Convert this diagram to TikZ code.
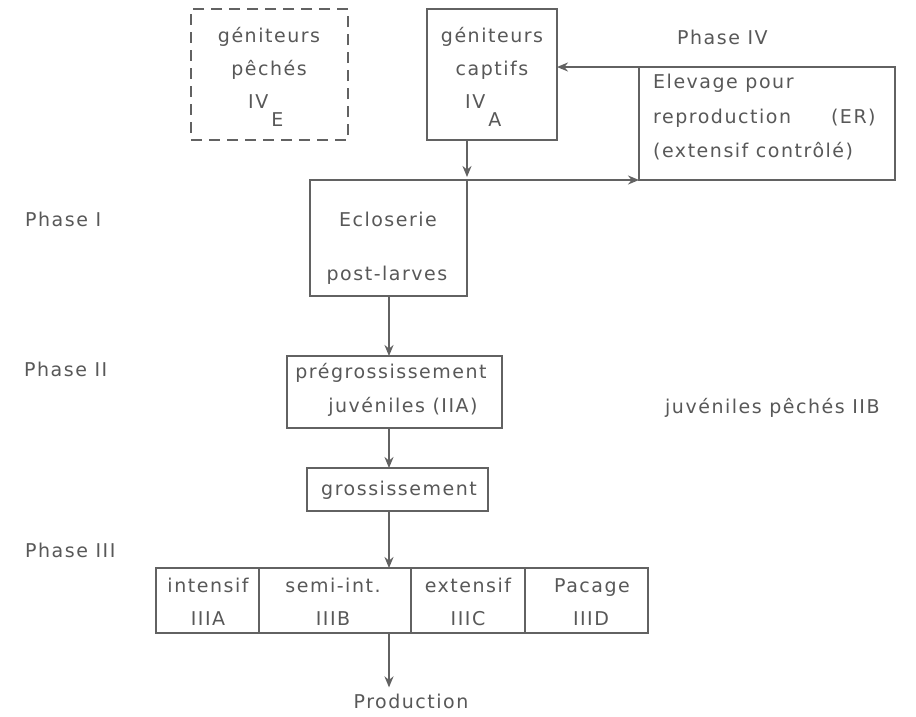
\documentclass[tikz,border=0pt]{standalone}
\usepackage{fontspec}
\setmainfont{DejaVu Sans}[LetterSpace=8]
\usetikzlibrary{arrows.meta}
\definecolor{inkline}{RGB}{98,98,98}
\definecolor{inktext}{RGB}{88,88,88}
\begin{document}
\begin{tikzpicture}[x=1pt,y=-1pt,
  frame/.style={draw=inkline, line width=2pt, inner sep=0pt, outer sep=0pt, rectangle},
  lbl/.style={text=inktext, font=\fontsize{19}{23}\selectfont, inner sep=0pt, anchor=base},
  flow/.style={draw=inkline, line width=2pt, -{Stealth[length=11pt,width=9pt]}}]

% page
\fill[white] (0,0) rectangle (916,716);
\useasboundingbox (0,0) rectangle (916,716);

% boxes
\node[frame, dash pattern=on 11pt off 7pt, minimum width=157pt, minimum height=131pt] (ive) at (269.5,74.5) {};
\node[frame, minimum width=130pt, minimum height=131pt] (iva) at (492,74.5) {};
\node[frame, minimum width=256pt, minimum height=113pt] (er) at (767,123.5) {};
\node[frame, minimum width=157pt, minimum height=116pt] (ecl) at (388.5,238) {};
\node[frame, minimum width=215pt, minimum height=72pt] (preg) at (394.5,392) {};
\node[frame, minimum width=181pt, minimum height=43pt] (gross) at (397.5,489.5) {};
\node[frame, minimum width=103pt, minimum height=65pt] (cellA) at (207.5,600.5) {};
\node[frame, minimum width=152pt, minimum height=65pt] (cellB) at (335,600.5) {};
\node[frame, minimum width=114pt, minimum height=65pt] (cellC) at (468,600.5) {};
\node[frame, minimum width=123pt, minimum height=65pt] (cellD) at (586.5,600.5) {};

% texts in the boxes
\node[lbl] (ive-1) at (269,42) {géniteurs};
\node[lbl] (ive-2) at (269,75) {pêchés};
\node[lbl, anchor=base west] (ive-3) at (248,108) {IV\hspace{3pt}\raisebox{-18pt}{E}};

\node[lbl] (iva-1) at (492,42) {géniteurs};
\node[lbl] (iva-2) at (492,75) {captifs};
\node[lbl, anchor=base west] (iva-3) at (465,108) {IV\hspace{3pt}\raisebox{-18pt}{A}};

\node[lbl, anchor=base west] (er-1) at (653,88) {Elevage pour};
\node[lbl, anchor=base west] (er-2) at (653,123) {reproduction\hspace{40pt}(ER)};
\node[lbl, anchor=base west] (er-3) at (653,157) {(extensif contrôlé)};

\node[lbl] (ecl-1) at (388,226) {Ecloserie};
\node[lbl] (ecl-2) at (387,280) {post-larves};

\node[lbl] (preg-1) at (391,378) {prégrossissement};
\node[lbl] (preg-2) at (403,412) {juvéniles (IIA)};

\node[lbl] (gross-1) at (399,495) {grossissement};

\node[lbl] (cellA-1) at (208,592) {intensif};
\node[lbl] (cellA-2) at (208,625) {IIIA};
\node[lbl] (cellB-1) at (333,592) {semi-int.};
\node[lbl] (cellB-2) at (333,625) {IIIB};
\node[lbl] (cellC-1) at (468,592) {extensif};
\node[lbl] (cellC-2) at (468,625) {IIIC};
\node[lbl] (cellD-1) at (592,592) {Pacage};
\node[lbl] (cellD-2) at (591,625) {IIID};

% phase labels and free texts
\node[lbl, anchor=base west] (ph4) at (677,44) {Phase IV};
\node[lbl, anchor=base west] (ph1) at (25,226) {Phase I};
\node[lbl, anchor=base west] (ph2) at (24,376) {Phase II};
\node[lbl, anchor=base west] (ph3) at (25,557) {Phase III};
\node[lbl, anchor=base west] (iib) at (665,413) {juvéniles pêchés IIB};
\node[lbl] (prod) at (411,708) {Production};

% connectors
\coordinate (spine) at (389,0);
\draw[flow, shorten >=3pt] (iva.south -| ecl.north east) -- (ecl.north east);
\draw[flow] (ecl.north east) -- (er.south west);
\draw[flow] (er.north west) -- (er.north west -| iva.east);
\draw[flow] (spine |- ecl.south) -- (spine |- preg.north);
\draw[flow] (spine |- preg.south) -- (spine |- gross.north);
\draw[flow] (spine |- gross.south) -- (spine |- cellB.north);
\draw[flow, shorten >=6pt] (spine |- cellB.south) -- (spine |- prod.north);
\end{tikzpicture}
\end{document}
